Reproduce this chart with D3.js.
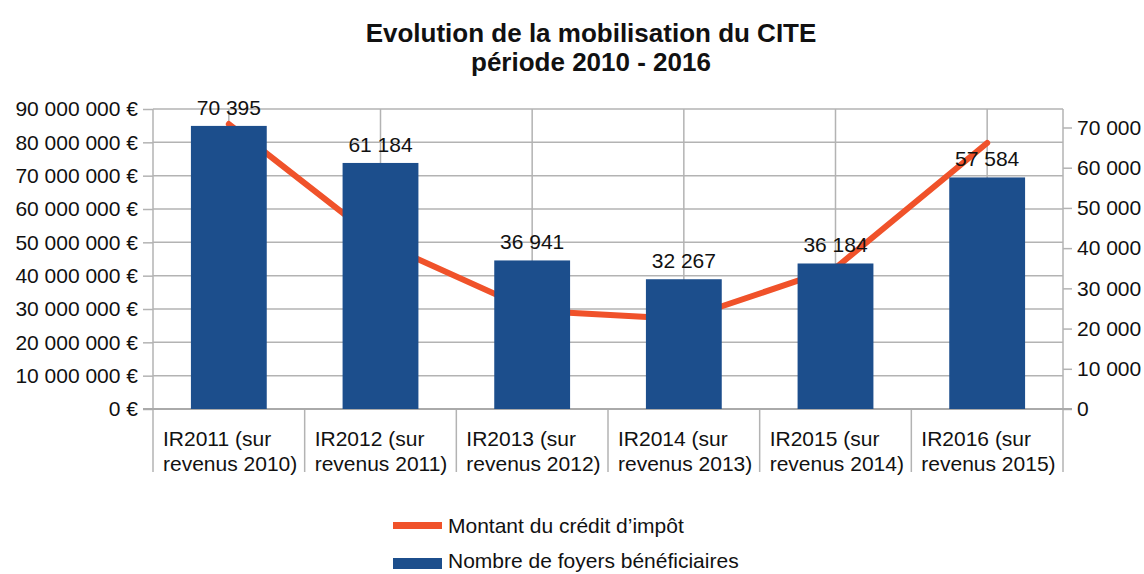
<!DOCTYPE html>
<meta charset="utf-8">
<style>

body {
  margin: 0;
  background: #fff;
}

text {
  font-family: "Liberation Sans", Arial, sans-serif;
  fill: #111;
}

.title text {
  font-size: 26px;
  font-weight: bold;
  text-anchor: middle;
}

.axis text, .cat text, .labels text, .legend text {
  font-size: 21px;
}

.axis path, .axis line {
  stroke: #b3b3b3;
  stroke-width: 1.5;
}

.grid line {
  stroke: #b3b3b3;
  stroke-width: 1.5;
}

</style>
<body>
<script src="https://d3js.org/d3.v7.min.js"></script>
<script>

var categories = [
  "IR2011 (sur revenus 2010)",
  "IR2012 (sur revenus 2011)",
  "IR2013 (sur revenus 2012)",
  "IR2014 (sur revenus 2013)",
  "IR2015 (sur revenus 2014)",
  "IR2016 (sur revenus 2015)"
];
var foyers = [70395, 61184, 36941, 32267, 36184, 57584];
var montant = [85500000, 50000000, 29500000, 27000000, 42300000, 79800000];
var leftTicks = [0, 10000000, 20000000, 30000000, 40000000, 50000000, 60000000, 70000000, 80000000, 90000000];
var rightTicks = [0, 10000, 20000, 30000, 40000, 50000, 60000, 70000];
var seriesNames = ["Montant du crédit d’impôt", "Nombre de foyers bénéficiaires"];

var width = 1144,
    height = 574,
    plotLeft = 153,
    plotRight = 1063,
    plotTop = 109,
    plotBottom = 409;

var fr = d3.formatLocale({decimal: ",", thousands: "\u00a0", grouping: [3], currency: ["", " €"]});
var num = fr.format(",");

var x = d3.scaleBand()
    .domain(categories)
    .range([plotLeft, plotRight])
    .paddingInner(0.5)
    .paddingOuter(0.25);

var yL = d3.scaleLinear().domain([0, 90000000]).range([plotBottom, plotTop]);
var yR = d3.scaleLinear().domain([0, 74600]).range([plotBottom, plotTop]);

var step = x.step();
function cx(c) { return x(c) + x.bandwidth() / 2; }

var svg = d3.select("body").append("svg")
    .attr("width", width)
    .attr("height", height);

// title
var title = svg.append("g").attr("class", "title");
title.append("text").attr("x", 591).attr("y", 42).text("Evolution de la mobilisation du CITE");
title.append("text").attr("x", 591).attr("y", 71).text("période 2010 - 2016");

// grid
var grid = svg.append("g").attr("class", "grid");
grid.selectAll(".h")
    .data(leftTicks)
  .enter().append("line")
    .attr("x1", plotLeft).attr("x2", plotRight)
    .attr("y1", function(d) { return yL(d); })
    .attr("y2", function(d) { return yL(d); });
grid.selectAll(".v")
    .data(categories)
  .enter().append("line")
    .attr("x1", cx).attr("x2", cx)
    .attr("y1", plotTop).attr("y2", plotBottom);
// axis lines and category separators below the axis
grid.selectAll(".sep")
    .data(d3.range(categories.length + 1))
  .enter().append("line")
    .attr("x1", function(i) { return plotLeft + i * step; })
    .attr("x2", function(i) { return plotLeft + i * step; })
    .attr("y1", function(i) { return (i == 0 || i == categories.length) ? plotTop : plotBottom; })
    .attr("y2", 472);

// axes
svg.append("g")
    .attr("class", "axis")
    .attr("transform", "translate(" + plotLeft + ",0)")
    .call(d3.axisLeft(yL).tickValues(leftTicks).tickSize(10).tickPadding(5)
      .tickFormat(function(d) { return num(d) + " €"; }));

svg.append("g")
    .attr("class", "axis")
    .attr("transform", "translate(" + plotRight + ",0)")
    .call(d3.axisRight(yR).tickValues(rightTicks).tickSize(9).tickPadding(5).tickFormat(num));

svg.selectAll(".axis .domain").remove();

svg.append("line")
    .attr("x1", plotLeft - 10).attr("x2", plotRight + 9)
    .attr("y1", plotBottom).attr("y2", plotBottom)
    .style("stroke", "#aaa").style("stroke-width", 2);

// montant line (behind the bars)
var line = d3.line()
    .x(function(d, i) { return cx(categories[i]); })
    .y(function(d) { return yL(d); });

svg.append("path")
    .datum(montant)
    .attr("d", line)
    .style("fill", "none")
    .style("stroke", "#f0522a")
    .style("stroke-width", 6)
    .style("stroke-linejoin", "round")
    .style("stroke-linecap", "round");

// bars
svg.append("g").selectAll("rect")
    .data(foyers)
  .enter().append("rect")
    .attr("x", function(d, i) { return x(categories[i]); })
    .attr("width", x.bandwidth())
    .attr("y", function(d) { return yR(d); })
    .attr("height", function(d) { return plotBottom - yR(d); })
    .style("fill", "#1c4e8c");

svg.append("g").attr("class", "labels").selectAll("text")
    .data(foyers)
  .enter().append("text")
    .attr("x", function(d, i) { return cx(categories[i]); })
    .attr("y", function(d) { return yR(d) - 11; })
    .attr("text-anchor", "middle")
    .text(num);

// category labels
var cat = svg.append("g").attr("class", "cat").selectAll("text")
    .data(categories)
  .enter().append("text")
    .attr("x", function(d) { return x(d) - step * 0.25 + 10; })
    .attr("y", 446);
cat.append("tspan").text(function(d) { return d.slice(0, d.indexOf(" revenus")); });
cat.append("tspan")
    .attr("x", function(d) { return x(d) - step * 0.25 + 10; })
    .attr("dy", 25)
    .text(function(d) { return d.slice(d.indexOf("revenus")); });

// legend
var legend = svg.append("g").attr("class", "legend");
legend.append("line")
    .attr("x1", 393).attr("x2", 442).attr("y1", 525.5).attr("y2", 525.5)
    .style("stroke", "#f0522a").style("stroke-width", 7);
legend.append("rect")
    .attr("x", 393).attr("y", 558).attr("width", 49).attr("height", 11)
    .style("fill", "#1c4e8c");
legend.append("text").attr("x", 448).attr("y", 533).text(seriesNames[0]);
legend.append("text").attr("x", 448).attr("y", 568).text(seriesNames[1]);

</script>
